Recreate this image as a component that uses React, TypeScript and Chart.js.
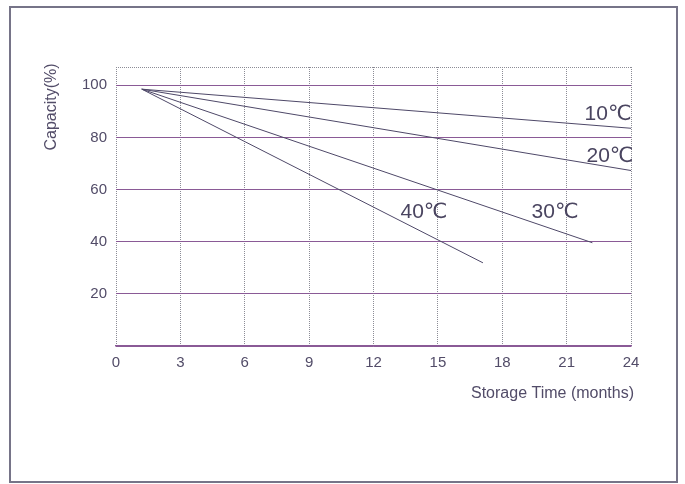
import React, { useEffect, useRef } from "react";
import { Chart, registerables } from "chart.js";

Chart.register(...registerables);

// Storage time (months) and remaining capacity (%) per temperature
const months10 = [1.2, 24];
const capacity10 = [98.5, 83.5];
const months20 = [1.2, 24];
const capacity20 = [98.5, 67.3];
const months30 = [1.2, 22.2];
const capacity30 = [98.5, 39.6];
const months40 = [1.2, 17.1];
const capacity40 = [98.5, 31.9];

const seriesNames = ["10℃", "20℃", "30℃", "40℃"];
// label anchors (data units) for the in-plot curve labels
const labelMonths = [22.93, 23.02, 20.46, 14.35];
const labelCapacity = [89.0, 72.7, 51.5, 51.5];

const xTicks = [0, 3, 6, 9, 12, 15, 18, 21, 24];
const yTicks = [0, 20, 40, 60, 80, 100];
const xTitle = "Storage Time (months)";
const yTitle = "Capacity(%)";

const FONT = '"Liberation Sans", Arial, "DejaVu Sans", sans-serif';
const LINE_COLOR = "#4e4868";
const HGRID = "#8a5a96";
const VGRID = "#8c8c96";
const TEXT = "#524c68";

const pts = (xs: number[], ys: number[]) => xs.map((x, i) => ({ x, y: ys[i] }));

const decorPlugin = {
  id: "decor",
  afterDraw(chart: any) {
    const { ctx, chartArea, scales } = chart;
    ctx.save();
    // outer frame
    ctx.strokeStyle = "#767488";
    ctx.lineWidth = 2;
    ctx.strokeRect(10, 7, 667, 475);
    // top plot border (dotted)
    ctx.strokeStyle = VGRID;
    ctx.lineWidth = 1;
    ctx.setLineDash([1, 1]);
    ctx.beginPath();
    ctx.moveTo(chartArea.left, chartArea.top + 0.5);
    ctx.lineTo(chartArea.right, chartArea.top + 0.5);
    ctx.stroke();
    ctx.setLineDash([]);
    // curve labels
    ctx.fillStyle = "#4a4560";
    ctx.font = `21px ${FONT}`;
    ctx.textAlign = "center";
    ctx.textBaseline = "middle";
    seriesNames.forEach((name, i) => {
      const px = scales.x.getPixelForValue(labelMonths[i]);
      const py = scales.y.getPixelForValue(labelCapacity[i]);
      ctx.fillText(name, px, py);
    });
    // axis titles
    ctx.fillStyle = TEXT;
    ctx.font = `16px ${FONT}`;
    ctx.textAlign = "right";
    ctx.textBaseline = "middle";
    ctx.fillText(xTitle, 634, 394);
    ctx.save();
    ctx.translate(52, 107);
    ctx.rotate(-Math.PI / 2);
    ctx.textAlign = "center";
    ctx.font = `16px ${FONT}`;
    ctx.fillText(yTitle, 0, 0);
    ctx.restore();
    ctx.restore();
  },
};

export default function App() {
  const ref = useRef<HTMLCanvasElement | null>(null);

  useEffect(() => {
    document.body.style.margin = "0";
    const canvas = ref.current;
    if (!canvas) return;
    const all = [
      pts(months10, capacity10),
      pts(months20, capacity20),
      pts(months30, capacity30),
      pts(months40, capacity40),
    ];
    const chart = new Chart(canvas, {
      type: "scatter",
      data: {
        datasets: all.map((d, i) => ({
          label: seriesNames[i],
          data: d,
          showLine: true,
          borderColor: LINE_COLOR,
          borderWidth: 1,
          pointRadius: 0,
          fill: false,
        })),
      },
      options: {
        animation: false,
        responsive: false,
        devicePixelRatio: 1,
        layout: { padding: { left: 0, top: 67, right: 54, bottom: 0 } },
        plugins: { legend: { display: false }, tooltip: { enabled: false } },
        scales: {
          x: {
            type: "linear",
            min: 0,
            max: 24,
            afterBuildTicks: (scale: any) => {
              scale.ticks = xTicks.map((v) => ({ value: v }));
            },
            afterFit: (scale: any) => {
              scale.height = 138;
            },
            ticks: {
              padding: 8,
              color: TEXT,
              font: { family: FONT, size: 15 },
              maxRotation: 0,
              autoSkip: false,
            },
            grid: { color: VGRID, lineWidth: 1, drawTicks: false },
            border: { display: true, color: HGRID, width: 1.5, dash: [1, 1] },
          },
          y: {
            type: "linear",
            min: 0,
            max: 107,
            afterBuildTicks: (scale: any) => {
              scale.ticks = yTicks.map((v) => ({ value: v }));
            },
            afterFit: (scale: any) => {
              scale.width = 116;
            },
            ticks: {
              padding: 9,
              color: TEXT,
              font: { family: FONT, size: 15 },
              callback: (v: any) => (v === 0 ? "" : String(v)),
            },
            grid: { color: HGRID, lineWidth: 1, drawTicks: false },
            border: { display: false },
          },
        },
      },
      plugins: [decorPlugin],
    });
    return () => chart.destroy();
  }, []);

  return (
    <div style={{ width: 685, height: 484, background: "#fff" }}>
      <canvas ref={ref} width={685} height={484} style={{ display: "block" }} />
    </div>
  );
}
